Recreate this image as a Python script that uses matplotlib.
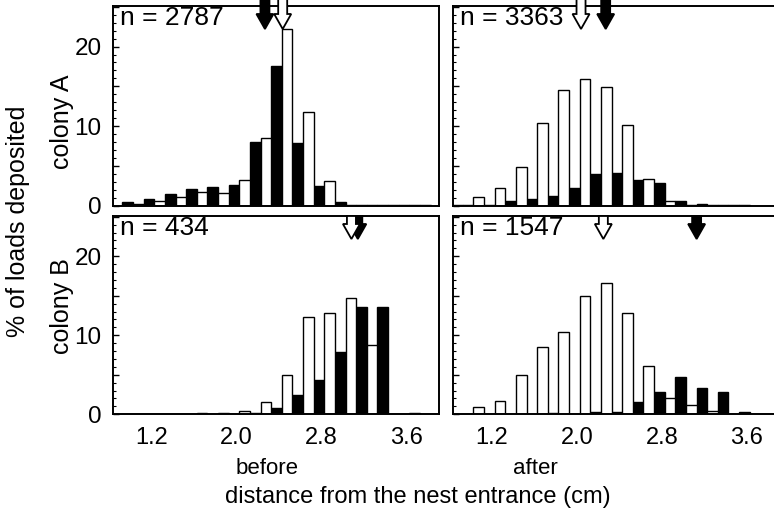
import matplotlib
matplotlib.use("Agg")
import matplotlib.pyplot as plt
from matplotlib.patches import Polygon
from matplotlib import transforms
from matplotlib.ticker import MultipleLocator, FuncFormatter

plt.rcParams['font.family'] = ['Liberation Sans', 'DejaVu Sans']

# distance bins (cm); each bin holds a black and a white bar
bins = [0.8, 1.0, 1.2, 1.4, 1.6, 1.8, 2.0, 2.2, 2.4, 2.6, 2.8, 3.0, 3.2, 3.4, 3.6, 3.8]

A_before_black = [0, 0.46, 0.88, 1.43, 2.05, 2.3, 2.64, 7.97, 17.6, 7.84, 2.52, 0.46, 0.1, 0.1, 0.1, 0.05]
A_before_white = [0, 0.2, 0.6, 1.13, 1.76, 1.55, 3.23, 8.47, 22.2, 11.78, 3.1, 0.05, 0.1, 0.1, 0.05, 0]
A_after_black = [0, 0.05, 0.1, 0.6, 0.9, 1.2, 2.2, 4.0, 4.07, 3.2, 2.9, 0.6, 0.2, 0.15, 0.05, 0]
A_after_white = [0.15, 1.05, 2.2, 4.9, 10.36, 14.5, 15.9, 14.9, 10.1, 3.35, 0.63, 0.05, 0.15, 0.1, 0, 0]
B_before_black = [0, 0, 0, 0, 0, 0, 0, 0.15, 0.75, 2.5, 4.4, 7.9, 13.6, 13.6, 0.05, 0]
B_before_white = [0, 0, 0, 0, 0.15, 0.15, 0.42, 1.6, 5.0, 12.3, 12.8, 14.7, 8.8, 0.1, 0.2, 0]
B_after_black = [0, 0, 0, 0, 0, 0.13, 0, 0.25, 0.33, 1.5, 2.85, 4.74, 3.35, 2.77, 0.25, 0]
B_after_white = [0.1, 0.96, 1.68, 4.95, 8.5, 10.4, 15.0, 16.6, 12.8, 6.1, 2.0, 1.17, 0.42, 0.1, 0, 0]

# mean positions (arrows), cm
A_before_mean = {'black': 2.266, 'white': 2.433}
A_after_mean = {'black': 2.27, 'white': 2.038}
B_before_mean = {'black': 3.14, 'white': 3.08}
B_after_mean = {'black': 3.126, 'white': 2.248}

n_labels = ["n = 2787", "n = 3363", "n = 434", "n = 1547"]
xtick_vals = [1.2, 2.0, 2.8, 3.6]
xtick_labels = ["1.2", "2.0", "2.8", "3.6"]

W, H = 774, 519
fig = plt.figure(figsize=(W / 100, H / 100), dpi=100)


def px_axes(x0, y_top, w, h):
    return fig.add_axes([x0 / W, 1 - (y_top + h) / H, w / W, h / H])


panel_w = 326.6
axs = [
    px_axes(112.7, 6, panel_w, 199.7),
    px_axes(453.0, 6, panel_w, 199.7),
    px_axes(112.7, 216, panel_w, 198.3),
    px_axes(453.0, 216, panel_w, 198.3),
]

panels = [
    (A_before_black, A_before_white, A_before_mean, True),
    (A_after_black, A_after_white, A_after_mean, True),
    (B_before_black, B_before_white, B_before_mean, False),
    (B_after_black, B_after_white, B_after_mean, False),
]

bw = 0.1
shift = 0.025


def draw_arrow(ax, xd, fc, top_panel):
    depth = 23.0
    hl = 15.0
    hw = 8.5
    sw = 4.5
    tail = 10.0 if top_panel else 0.0
    pts = [(-sw, tail), (-sw, -(depth - hl)), (-hw, -(depth - hl)), (0, -depth),
           (hw, -(depth - hl)), (sw, -(depth - hl)), (sw, tail)]
    pts = [(a / 100.0, b / 100.0) for a, b in pts]
    blend = transforms.blended_transform_factory(ax.transData, ax.transAxes)
    tr = fig.dpi_scale_trans + transforms.ScaledTranslation(xd, 1.0, blend)
    poly = Polygon(pts, closed=True, facecolor=fc, edgecolor='black', linewidth=1.3,
                   transform=tr, clip_on=False, zorder=5)
    fig.add_artist(poly)


for i, (ax, (blk, wht, mean, top)) in enumerate(zip(axs, panels)):
    xb = [b + shift - bw for b in bins]
    xw = [b + shift for b in bins]
    ax.bar(xb, blk, width=bw, align='edge', color='black', edgecolor='black', linewidth=1.0)
    ax.bar(xw, wht, width=bw, align='edge', color='white', edgecolor='black', linewidth=1.0)
    ax.set_xlim(0.833, 3.907)
    ax.set_ylim(0, 25.1)
    ax.yaxis.set_major_locator(MultipleLocator(5))
    ax.yaxis.set_minor_locator(MultipleLocator(1))
    ax.yaxis.set_major_formatter(FuncFormatter(lambda v, p: "%d" % v if int(round(v)) % 10 == 0 else ""))
    ax.tick_params(axis='y', which='major', direction='in', length=4, width=1.0,
                   labelsize=17.5, pad=8)
    ax.tick_params(axis='y', which='minor', direction='in', length=2, width=0.8)
    ax.set_xticks(xtick_vals)
    ax.set_xticklabels(xtick_labels)
    ax.tick_params(axis='x', length=0, labelsize=17, pad=9)
    if i in (1, 3):
        ax.tick_params(axis='y', labelleft=False)
    if i in (0, 1):
        ax.tick_params(axis='x', labelbottom=False)
    for s in ax.spines.values():
        s.set_linewidth(1.4)
    ax.text(7 / panel_w, 1 - 12 / 199.0, n_labels[i], transform=ax.transAxes,
            ha='left', va='center', fontsize=19)
    draw_arrow(ax, mean['black'], 'black', top)
    draw_arrow(ax, mean['white'], 'white', top)

fig.text(267 / W, 1 - 468 / H, "before", ha='center', va='center', fontsize=16)
fig.text(535 / W, 1 - 468 / H, "after", ha='center', va='center', fontsize=16)
fig.text(418 / W, 1 - 497 / H, "distance from the nest entrance (cm)", ha='center', va='center', fontsize=17)
fig.text(18 / W, 1 - 221 / H, "% of loads deposited", ha='center', va='center', rotation=90, fontsize=18)
fig.text(62 / W, 1 - 122 / H, "colony A", ha='center', va='center', rotation=90, fontsize=18)
fig.text(62 / W, 1 - 306 / H, "colony B", ha='center', va='center', rotation=90, fontsize=18)

fig.savefig("out.png", dpi=100)
